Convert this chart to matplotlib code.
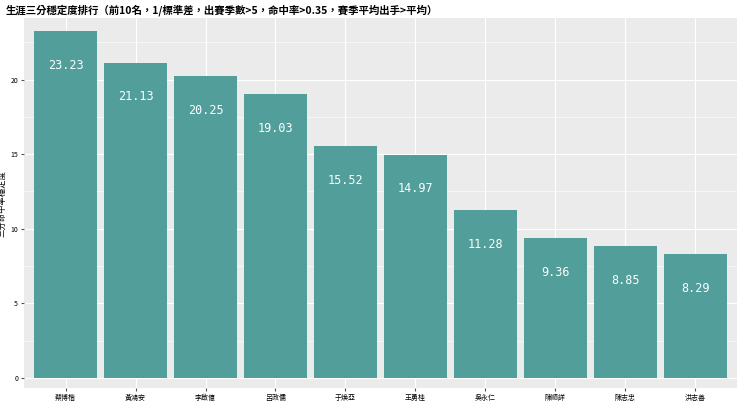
import matplotlib
matplotlib.use("Agg")
import matplotlib.pyplot as plt

plt.rcParams['font.family'] = ['Noto Sans CJK TC', 'DejaVu Sans']

players = ["蔡博楷", "黃鴻安", "李啟億", "呂政儒", "于煥亞", "王勇桂", "吳永仁", "陳順詳", "陳志忠", "洪志善"]
values = [23.23, 21.13, 20.25, 19.03, 15.52, 14.97, 11.28, 9.36, 8.85, 8.29]
yticks = [0, 5, 10, 15, 20]

fig = plt.figure(figsize=(7.4, 4.16), dpi=100)
ax = fig.add_axes([0.032, 0.067, 0.964, 0.889])
ax.set_facecolor("#EBEBEB")
x = list(range(len(players)))
ax.bar(x, values, width=0.9, color="#519E9A", zorder=3)
for xi, v in zip(x, values):
    ax.text(xi, v - 2.3, f"{v:.2f}", ha="center", va="center", color="white",
            fontsize=8.5, family=["DejaVu Sans Mono"], zorder=4)
ax.set_xticks(x)
ax.set_xticklabels(players, fontsize=5)
ax.set_yticks(yticks)
ax.set_yticklabels([str(t) for t in yticks], fontsize=5)
ax.set_xlim(-0.6, 9.6)
ax.set_ylim(-0.67, 24.1)
ax.grid(True, color="white", linewidth=0.8, zorder=0)
ax.set_yticks([2.5, 7.5, 12.5, 17.5, 22.5], minor=True)
ax.grid(True, which="minor", axis="y", color="white", linewidth=0.4, zorder=0)
ax.tick_params(which="minor", length=0)
ax.tick_params(length=2, color="#555555", pad=2)
for s in ax.spines.values():
    s.set_visible(False)
ax.set_ylabel("三分命中率穩定度", fontsize=6, labelpad=3)
fig.text(0.008, 0.975, "生涯三分穩定度排行（前10名，1/標準差，出賽季數>5，命中率>0.35，賽季平均出手>平均）",
         fontsize=7.5, fontweight="bold", va="center", ha="left")
fig.savefig("out.png", dpi=100, facecolor="white")
